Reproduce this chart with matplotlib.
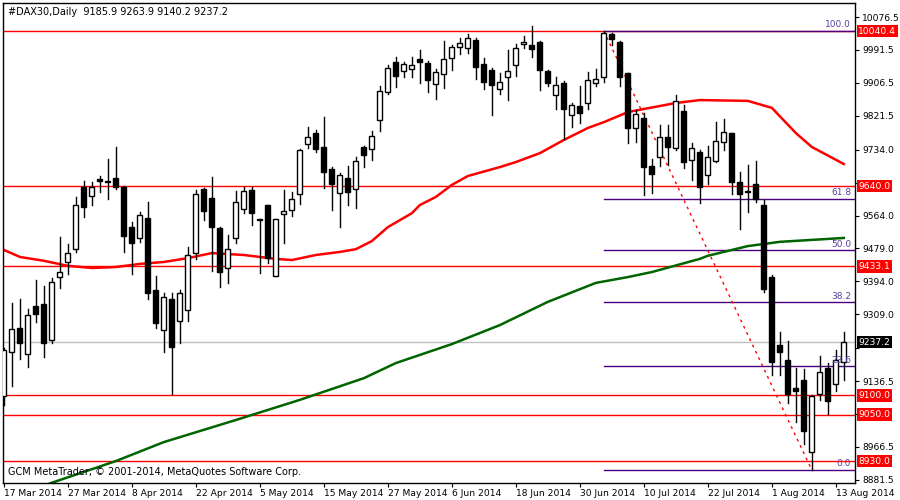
import matplotlib
matplotlib.use("Agg")
import matplotlib.pyplot as plt
import matplotlib.transforms as mtransforms
from matplotlib.patches import Rectangle

title = "#DAX30,Daily  9185.9 9263.9 9140.2 9237.2"
copyright_text = "GCM MetaTrader, \u00a9 2001-2014, MetaQuotes Software Corp."

date_labels = ["17 Mar 2014", "27 Mar 2014", "8 Apr 2014", "22 Apr 2014", "5 May 2014",
               "15 May 2014", "27 May 2014", "6 Jun 2014", "18 Jun 2014", "30 Jun 2014",
               "10 Jul 2014", "22 Jul 2014", "1 Aug 2014", "13 Aug 2014"]

opens = [9097.9, 9211.5, 9273.5, 9206.4, 9330.3, 9335.5, 9242.5, 9405.2, 9443.9, 9477.5,
         9637.6, 9614.3, 9658.2, 9653.1, 9660.8, 9637.6, 9534.3, 9505.9, 9557.5, 9371.6,
         9268.3, 9348.4, 9291.6, 9320.0, 9467.2, 9632.4, 9609.2, 9531.7, 9428.4, 9505.9,
         9580.8, 9629.8, 9554.9, 9591.1, 9407.8, 9567.9, 9578.2, 9619.5, 9748.6, 9777.0,
         9740.8, 9684.0, 9622.1, 9660.8, 9632.4, 9740.8, 9735.7, 9810.6, 9882.9, 9960.3,
         9937.1, 9942.2, 9968.1, 9957.7, 9903.5, 9929.3, 9970.6, 9999.0, 9996.5, 10017.1,
         9955.2, 9939.7, 9890.6, 9921.6, 9952.6, 10006.8, 10004.2, 10012.0, 9937.1, 9875.1,
         9906.1, 9823.5, 9846.7, 9854.5, 9906.1, 9921.6, 10032.6, 10012.0, 9931.9, 9789.9,
         9815.7, 9691.8, 9715.0, 9766.7, 9738.3, 9833.8, 9707.3, 9727.9, 9668.5, 9704.7,
         9753.8, 9777.0, 9650.5, 9627.2, 9645.3, 9591.1, 9405.2, 9229.6, 9190.9, 9118.6,
         9139.2, 8953.3, 9103.1, 9170.2, 9128.9, 9185.9]
highs = [9221.9, 9338.1, 9348.4, 9322.6, 9397.4, 9381.9, 9402.6, 9508.5, 9490.4, 9611.7,
         9653.1, 9650.5, 9666.0, 9709.9, 9740.8, 9640.1, 9547.2, 9573.0, 9598.8, 9407.8,
         9363.9, 9363.9, 9371.6, 9482.6, 9629.8, 9635.0, 9663.4, 9534.3, 9513.6, 9627.2,
         9637.6, 9637.6, 9554.9, 9591.1, 9554.9, 9629.8, 9624.7, 9735.7, 9792.5, 9784.7,
         9818.3, 9689.2, 9673.7, 9691.8, 9715.0, 9743.4, 9782.2, 9898.3, 9952.6, 9973.2,
         9960.3, 9973.2, 9991.3, 9962.9, 9942.2, 10014.5, 10004.2, 10022.3, 10032.6, 10022.3,
         9970.6, 9944.8, 9931.9, 9991.3, 10006.8, 10027.4, 10053.3, 10014.5, 9939.7, 9921.6,
         9911.3, 9854.5, 9898.3, 9934.5, 9942.2, 10040.4, 10035.2, 10014.5, 9931.9, 9836.4,
         9828.6, 9709.9, 9797.6, 9797.6, 9875.1, 9849.3, 9751.2, 9733.1, 9743.4, 9805.4,
         9813.1, 9777.0, 9676.3, 9694.4, 9704.7, 9604.0, 9410.3, 9263.2, 9239.9, 9170.2,
         9167.6, 9100.5, 9201.2, 9183.1, 9216.7, 9263.9]
lows = [9074.7, 9123.7, 9193.5, 9172.8, 9289.0, 9198.6, 9234.8, 9376.8, 9412.9, 9469.7,
        9560.1, 9591.1, 9624.7, 9606.6, 9632.4, 9469.7, 9412.9, 9495.6, 9348.4, 9273.5,
        9211.5, 9103.1, 9234.8, 9291.6, 9451.7, 9552.4, 9420.7, 9379.4, 9389.7, 9493.0,
        9570.4, 9539.4, 9415.5, 9441.3, 9407.8, 9493.0, 9562.7, 9593.7, 9738.3, 9727.9,
        9635.0, 9578.2, 9534.3, 9591.1, 9583.3, 9689.2, 9707.3, 9782.2, 9877.7, 9895.8,
        9921.6, 9921.6, 9906.1, 9882.9, 9864.8, 9893.2, 9939.7, 9981.0, 9983.6, 9916.4,
        9890.6, 9823.5, 9877.7, 9862.2, 9924.2, 9996.5, 9973.2, 9888.0, 9898.3, 9839.0,
        9761.5, 9792.5, 9802.8, 9839.0, 9898.3, 9908.7, 10004.2, 9898.3, 9751.2, 9753.8,
        9616.9, 9622.1, 9691.8, 9694.4, 9733.1, 9686.6, 9655.6, 9596.3, 9645.3, 9702.1,
        9733.1, 9619.5, 9529.1, 9573.0, 9598.8, 9366.4, 9152.1, 9152.1, 9079.9, 9030.8,
        8974.0, 8907.0, 9087.6, 9051.4, 9110.8, 9140.2]
closes = [9216.7, 9270.9, 9234.8, 9307.1, 9309.7, 9234.8, 9392.3, 9418.1, 9467.2, 9591.1,
          9585.9, 9637.6, 9653.1, 9650.5, 9637.6, 9511.0, 9493.0, 9565.3, 9363.9, 9286.4,
          9353.5, 9224.4, 9363.9, 9462.0, 9619.5, 9575.6, 9534.3, 9418.1, 9477.5, 9598.8,
          9627.2, 9570.4, 9552.4, 9454.2, 9554.9, 9575.6, 9606.6, 9733.1, 9766.7, 9735.7,
          9676.3, 9645.3, 9668.5, 9624.7, 9704.7, 9720.2, 9769.2, 9885.4, 9944.8, 9924.2,
          9955.2, 9952.6, 9960.3, 9913.8, 9934.5, 9968.1, 9999.0, 10009.4, 10022.3, 9947.4,
          9908.7, 9900.9, 9908.7, 9937.1, 9996.5, 10012.0, 9993.9, 9939.7, 9906.1, 9900.9,
          9839.0, 9849.3, 9828.6, 9913.8, 9916.4, 10035.2, 10019.7, 9921.6, 9789.9, 9826.1,
          9689.2, 9671.1, 9766.7, 9740.8, 9859.6, 9702.1, 9738.3, 9637.6, 9715.0, 9756.3,
          9779.6, 9650.5, 9619.5, 9624.7, 9606.6, 9374.2, 9185.7, 9211.5, 9103.1, 9110.8,
          9007.6, 9097.9, 9159.9, 9085.0, 9190.9, 9237.2]

ma_red_idx = [0, 2, 5, 8, 11, 14, 17, 20, 23, 26, 30, 34, 36, 39, 42, 44, 46, 48, 51, 52,
              54, 56, 58, 62, 64, 67, 70, 73, 75, 78, 80, 84, 87, 93, 96, 99, 101, 105]
ma_red = [9475, 9457, 9447, 9434, 9428.5, 9431, 9439, 9444, 9454, 9467, 9462, 9452, 9449,
          9462, 9470, 9477, 9498, 9534, 9570, 9591, 9612, 9643, 9666, 9689, 9702, 9725, 9759,
          9790, 9805, 9831, 9839, 9854.5, 9862, 9860, 9842, 9777, 9741, 9697]
ma_green_idx = [4, 7, 14, 20, 29, 37, 45, 49, 56, 62, 68, 74, 78, 81, 87, 88, 93, 97, 105]
ma_green = [8860, 8881, 8930, 8979, 9036, 9088, 9144, 9183, 9232, 9281, 9341, 9390, 9405,
            9418, 9452, 9460, 9485, 9496, 9506]

levels = [10040.4, 9640.0, 9433.1, 9100.0, 9050.0, 8930.0]
last_price = 9237.2
fib_hi, fib_lo = 10040.4, 8907.0
fib_start, fib_end = 75, 101
fib_ratios = [100.0, 61.8, 50.0, 38.2, 23.6, 0.0]
yticks = [10076.5, 9991.5, 9906.5, 9821.5, 9734.0, 9649.0, 9564.0, 9479.0, 9394.0,
          9309.0, 9221.5, 9136.5, 9051.5, 8966.5, 8881.5]
hidden_ticks = [9649.0, 9221.5, 9051.5]

fig = plt.figure(figsize=(9, 5), dpi=100)
ax = fig.add_axes([0.0033, 0.034, 0.9467, 0.96])
n = len(opens)
ax.set_xlim(-0.12, 106.4)
ax.set_ylim(8873.3, 10112.7)

for lv in levels:
    ax.axhline(lv, color="#ff0000", lw=1, zorder=1)
ax.axhline(last_price, color="#c0c0c0", lw=1, zorder=1)

for r in fib_ratios:
    p = fib_lo + (fib_hi - fib_lo) * r / 100
    ax.plot([fib_start, 106.4], [p, p], color="#4b0082", lw=1, zorder=1.5)
    ax.text(105.9, p + 4, f"{r:.1f}", color="#5a3fa0", fontsize=6.5, ha="right",
            va="bottom", zorder=6)
ax.plot([fib_start, fib_end], [fib_hi, fib_lo], color="#ff0000", lw=1, ls=(0, (2, 3)), zorder=1.6)

ax.plot(ma_red_idx, ma_red, color="#ff0000", lw=1.8, zorder=2)
ax.plot(ma_green_idx, ma_green, color="#006400", lw=1.8, zorder=2)

w = 0.62
for i in range(n):
    o, h, l, c = opens[i], highs[i], lows[i], closes[i]
    ax.plot([i, i], [l, h], color="black", lw=1, zorder=3)
    lo_b, hi_b = min(o, c), max(o, c)
    hgt = max(hi_b - lo_b, 1.5)
    fc = "white" if c > o else "black"
    ax.add_patch(Rectangle((i - w / 2, lo_b), w, hgt, facecolor=fc, edgecolor="black",
                           lw=1, zorder=4))

ax.yaxis.tick_right()
ax.set_yticks(yticks)
ax.set_yticklabels(["" if v in hidden_ticks else f"{v:.1f}" for v in yticks])
ax.tick_params(axis="y", labelsize=6.6, length=3, pad=2)
ax.set_xticks(list(range(0, 105, 8)))
ax.set_xticklabels(date_labels, ha="left")
ax.tick_params(axis="x", labelsize=6.6, length=3, pad=1)
for s in ax.spines.values():
    s.set_color("black")
    s.set_linewidth(1)

trans = mtransforms.blended_transform_factory(ax.transAxes, ax.transData)
for lv in levels:
    ax.text(1.004, lv, f"{lv:.1f}", transform=trans, color="white", fontsize=6.6,
            va="center", ha="left", zorder=10, clip_on=False,
            bbox=dict(boxstyle="square,pad=0.2", fc="#ff0000", ec="none"))
ax.text(1.004, last_price, f"{last_price:.1f}", transform=trans, color="white", fontsize=6.6,
        va="center", ha="left", zorder=10, clip_on=False,
        bbox=dict(boxstyle="square,pad=0.2", fc="black", ec="none"))

ax.text(0.006, 0.992, title, transform=ax.transAxes, fontsize=7, va="top", ha="left")
ax.text(0.006, 0.012, copyright_text, transform=ax.transAxes, fontsize=7, va="bottom",
        ha="left")

fig.savefig("out.png", dpi=100)
